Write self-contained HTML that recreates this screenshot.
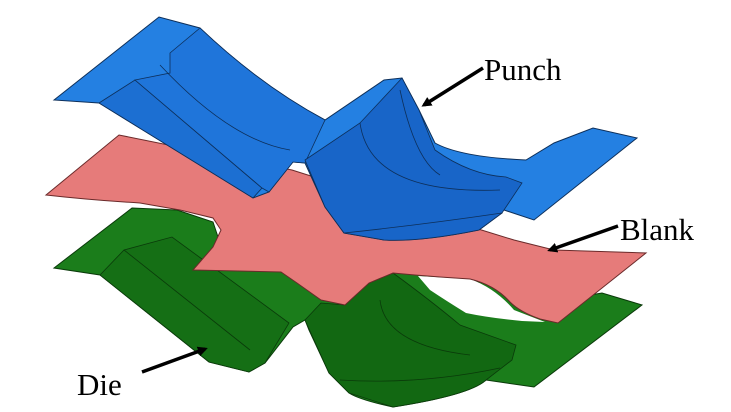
<!DOCTYPE html>
<html><head><style>
html,body{margin:0;padding:0;background:#fff;}
svg{display:block;}
text{font-family:"Liberation Serif",serif;font-size:31px;fill:#000;}
</style></head><body>
<svg width="731" height="412" viewBox="0 0 731 412" xmlns="http://www.w3.org/2000/svg">
<defs>
<marker id="ah" markerWidth="10" markerHeight="10" refX="7" refY="5" orient="auto" markerUnits="userSpaceOnUse">
<path d="M0,0 L10,5 L0,10 z" fill="#000"/>
</marker>
</defs>
<!-- Die (green) -->
<path d="M54,268 L132,208 L177,210 L213,222 L219,240 L300,270 L400,265 L470,280 L560,300 L602,293 L642,305 L534,387 L486,380 Q470,395 393,407 Q360,400 349,393 L329,373 L309,330 L305,320 L293,327 L265,363 L249,372 L209,362 L100,275 Z" fill="#1b7d1b" stroke="#0a3a0a" stroke-width="1"/>
<path d="M100,275 L124,250 L172,237 L289,323 L265,363 L249,372 L209,362 Z" fill="#156f15" stroke="#0a3a0a" stroke-width="0.8"/>
<path d="M305,320 L321,303 L345,305 L369,283 L393,273 Q430,300 460,325 L516,345 L512,360 L486,380 Q470,395 393,407 L349,393 L329,373 Z" fill="#126812" stroke="#0a3a0a" stroke-width="0.8"/>
<path d="M340,380 Q420,385 500,368 M380,300 Q385,345 470,355 M124,250 L250,350" fill="none" stroke="#0a3a0a" stroke-width="0.8"/>
<!-- white gap under blank -->
<path d="M418,276 L470,279 Q495,288 514,310 L545,322 L522,321 Q490,318 466,313 Q445,300 430,290 Z" fill="#fff"/>
<!-- Blank (pink) -->
<path d="M46,195 L119,135 L292,170 L475,228 L514,240 L554,250 L646,253 L558,323 L540,319 Q520,312 510,302 Q495,285 470,279 L440,277 L415,275 L393,273 L369,283 L345,305 L321,300 L297,283 L281,272 L193,270 L213,247 L221,230 L213,218 L180,210 L140,203 Q90,200 46,195 Z" fill="#e67b7a" stroke="#6a2a2a" stroke-width="1"/>
<!-- Punch (blue) -->
<path d="M54,100 L159,17 L200,28 Q260,85 325,120 L384,80 L402,78 L419,110 L435,143 Q460,157 526,160 L554,143 L593,128 L637,138 L534,220 L495,207 L502,213 L479,230 Q420,242 384,240 L344,233 L325,207 L305,163 L293,162 L269,192 L253,198 L99,103 Z" fill="#2480e2" stroke="#0d2f5a" stroke-width="1"/>
<path d="M99,103 L135,80 L262,188 L253,198 Z" fill="#1c6fd2" stroke="#0d2f5a" stroke-width="0.8"/>
<path d="M135,80 L170,73 L170,53 L200,28 Q260,85 325,120 L305,163 L293,162 L269,192 L262,188 Z" fill="#1f75da" stroke="#0d2f5a" stroke-width="0.8"/>
<path d="M305,160 L360,123 L402,78 L419,110 L435,150 Q470,175 506,177 L522,183 L502,213 L479,230 Q420,242 384,240 L344,233 L325,207 Z" fill="#1865c8" stroke="#0d2f5a" stroke-width="0.8"/>
<path d="M344,233 Q420,225 502,213 M360,123 Q370,195 500,190 M400,90 Q415,160 440,175 M160,65 Q230,140 290,150" fill="none" stroke="#0d2f5a" stroke-width="0.8"/>
<!-- Labels -->
<text x="484" y="80">Punch</text>
<text x="620" y="240">Blank</text>
<text x="77" y="395">Die</text>
<line x1="483" y1="68" x2="424" y2="105" stroke="#000" stroke-width="3.5" marker-end="url(#ah)"/>
<line x1="618" y1="226" x2="550" y2="250" stroke="#000" stroke-width="3.5" marker-end="url(#ah)"/>
<line x1="142" y1="372" x2="205" y2="349" stroke="#000" stroke-width="3.5" marker-end="url(#ah)"/>
</svg>
</body></html>
